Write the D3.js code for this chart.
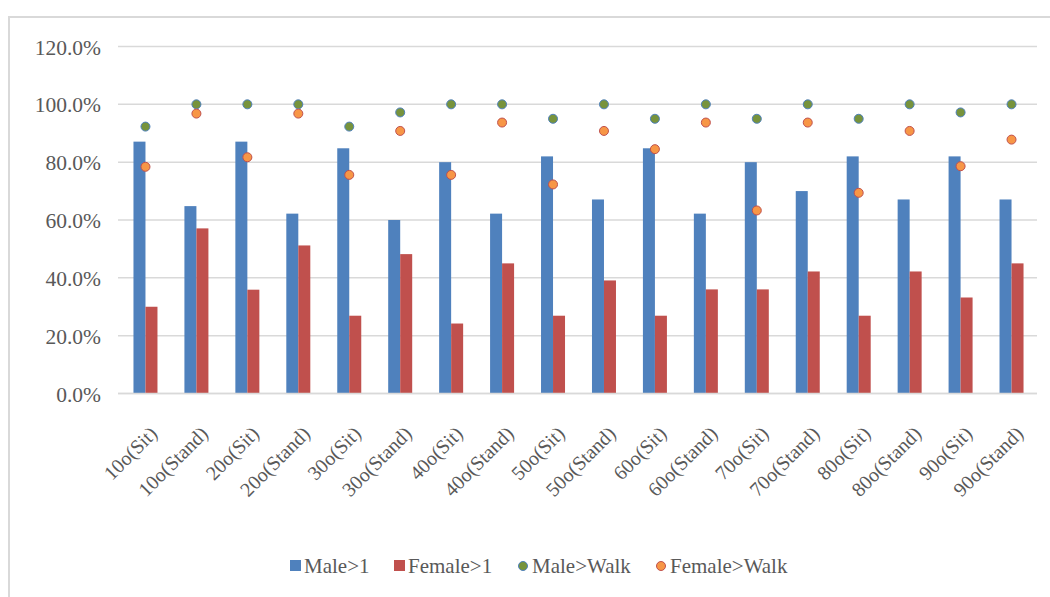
<!DOCTYPE html>
<html>
<head>
<meta charset="utf-8">
<script src="https://cdn.jsdelivr.net/npm/d3@7"></script>
<style>
  html, body { margin: 0; padding: 0; background: #fff; }
  svg { display: block; }
  svg text { font-family: "Liberation Serif", "Tinos", "Times New Roman", "DejaVu Serif", serif !important; fill: #595959; }
</style>
</head>
<body>
<svg id="chart" width="1050" height="597"></svg>
<script>
// Categories: tilt angle and posture
const categories = [
  "10o(Sit)", "10o(Stand)", "20o(Sit)", "20o(Stand)", "30o(Sit)", "30o(Stand)",
  "40o(Sit)", "40o(Stand)", "50o(Sit)", "50o(Stand)", "60o(Sit)", "60o(Stand)",
  "70o(Sit)", "70o(Stand)", "80o(Sit)", "80o(Stand)", "90o(Sit)", "90o(Stand)"
];

// Percentages per category
const male1 = [87.1, 64.8, 87.1, 62.2, 84.8, 60.0, 80.0, 62.2, 82.0, 67.1, 84.8, 62.2, 80.0, 70.0, 82.0, 67.1, 82.0, 67.1];
const female1 = [30.0, 57.1, 35.9, 51.2, 26.9, 48.2, 24.2, 45.0, 26.9, 39.1, 26.9, 36.0, 36.0, 42.2, 26.9, 42.2, 33.2, 45.0];
const maleWalk = [92.3, 100, 100, 100, 92.3, 97.2, 100, 100, 95.0, 100, 95.0, 100, 95.0, 100, 95.0, 100, 97.2, 100];
const femaleWalk = [78.4, 96.8, 81.7, 96.8, 75.6, 90.8, 75.6, 93.7, 72.3, 90.8, 84.5, 93.7, 63.3, 93.7, 69.4, 90.8, 78.6, 87.8];

const yTicks = [0, 20, 40, 60, 80, 100, 120];
const legendItems = [
  { label: "Male>1", kind: "bar", fill: "#4F81BD", stroke: "#4F81BD" },
  { label: "Female>1", kind: "bar", fill: "#C0504D", stroke: "#C0504D" },
  { label: "Male>Walk", kind: "dot", fill: "#77933C", stroke: "#4F81BD" },
  { label: "Female>Walk", kind: "dot", fill: "#F79646", stroke: "#C0504D" }
];

const svg = d3.select("#chart");

// chart area border (top and left edges)
svg.append("path")
  .attr("d", "M9,598 L9,17 L1051,17")
  .attr("fill", "none")
  .attr("stroke", "#D9D9D9")
  .attr("stroke-width", 2);

const x = d3.scaleBand().domain(categories).range([120, 1037]).padding(0);
const y = d3.scaleLinear().domain([0, 120]).range([393.5, 46.5]);
const barW = 12;

// gridlines
svg.append("g").selectAll("line").data(yTicks).join("line")
  .attr("x1", 118).attr("x2", 1037)
  .attr("y1", d => y(d)).attr("y2", d => y(d))
  .attr("stroke", "#D9D9D9").attr("stroke-width", 1.5);

// y axis labels
const yAxis = d3.axisLeft(y).tickValues(yTicks).tickSize(0).tickPadding(0)
  .tickFormat(d => d3.format(".1f")(d) + "%");
const gy = svg.append("g").attr("transform", "translate(101,0)").call(yAxis);
gy.select(".domain").remove();
gy.selectAll("text")
  .attr("font-size", 21.5)
  .attr("fill", "#595959")
  .attr("dy", "0.35em");

const cx = d => x(d) + x.bandwidth() / 2;

// bars
svg.append("g").selectAll("rect").data(categories).join("rect")
  .attr("x", d => cx(d) - barW)
  .attr("width", barW)
  .attr("y", (d, i) => y(male1[i]))
  .attr("height", (d, i) => y(0) - y(male1[i]))
  .attr("fill", "#4F81BD");

svg.append("g").selectAll("rect").data(categories).join("rect")
  .attr("x", d => cx(d))
  .attr("width", barW)
  .attr("y", (d, i) => y(female1[i]))
  .attr("height", (d, i) => y(0) - y(female1[i]))
  .attr("fill", "#C0504D");

// axis baseline
svg.append("line")
  .attr("x1", 118).attr("x2", 1037)
  .attr("y1", y(0)).attr("y2", y(0))
  .attr("stroke", "#D9D9D9").attr("stroke-width", 1.5);

// markers
svg.append("g").selectAll("circle").data(categories).join("circle")
  .attr("cx", d => cx(d))
  .attr("cy", (d, i) => y(maleWalk[i]))
  .attr("r", 4.5)
  .attr("fill", "#77933C").attr("stroke", "#4F81BD").attr("stroke-width", 1);

svg.append("g").selectAll("circle").data(categories).join("circle")
  .attr("cx", d => cx(d))
  .attr("cy", (d, i) => y(femaleWalk[i]))
  .attr("r", 4.5)
  .attr("fill", "#F79646").attr("stroke", "#C0504D").attr("stroke-width", 1);

// rotated category labels
svg.append("g").selectAll("text").data(categories).join("text")
  .attr("transform", d => `translate(${cx(d) + 3},${425}) rotate(-45)`)
  .attr("text-anchor", "end")
  .attr("dy", "0.7em")
  .attr("font-size", 20)
  .text(d => d);

// legend
const legendX = [290, 394, 518, 656];
const lg = svg.append("g");
legendItems.forEach((item, i) => {
  const g = lg.append("g").attr("transform", `translate(${legendX[i]},566)`);
  if (item.kind === "bar") {
    g.append("rect").attr("x", 0).attr("y", -6).attr("width", 11).attr("height", 11).attr("fill", item.fill);
  } else {
    g.append("circle").attr("cx", 5).attr("cy", 0).attr("r", 4.5)
      .attr("fill", item.fill).attr("stroke", item.stroke).attr("stroke-width", 1);
  }
  g.append("text").attr("x", 14).attr("y", 0).attr("dy", "0.35em")
    .attr("font-size", 21).text(item.label);
});
</script>
</body>
</html>
